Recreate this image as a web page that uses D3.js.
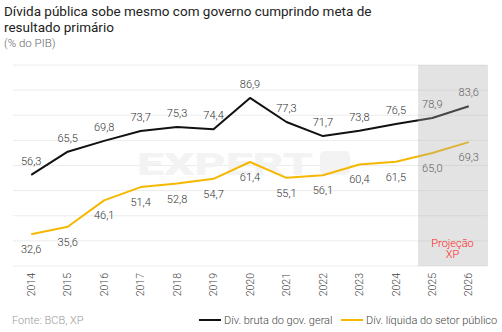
<!DOCTYPE html>
<html>
<head>
<meta charset="utf-8">
<script src="https://cdn.jsdelivr.net/npm/d3@7"></script>
<style>
  body { margin: 0; background: #fff; }
  svg { display: block; font-family: Roboto, "Noto Sans", sans-serif; }
  .light { font-weight: 300; }
</style>
</head>
<body>
<div id="chart"></div>
<script>
const years = ["2014", "2015", "2016", "2017", "2018", "2019", "2020", "2021", "2022", "2023", "2024", "2025", "2026"];
const dividaBruta = [56.3, 65.5, 69.8, 73.7, 75.3, 74.4, 86.9, 77.3, 71.7, 73.8, 76.5, 78.9, 83.6];
const dividaLiquida = [32.6, 35.6, 46.1, 51.4, 52.8, 54.7, 61.4, 55.1, 56.1, 60.4, 61.5, 65.0, 69.3];
const yTicks = [20, 30, 40, 50, 60, 70, 80, 90, 100];
const projectionStart = "2025";

const width = 502, height = 332;
const margin = { top: 65, right: 15, bottom: 66, left: 13 };
const innerWidth = width - margin.left - margin.right;
const innerHeight = height - margin.top - margin.bottom;

const svg = d3.select("#chart").append("svg")
  .attr("width", width).attr("height", height);

// titles
svg.append("text").attr("x", 4).attr("y", 16)
  .attr("font-size", 13.5).attr("fill", "#222")
  .text("Dívida pública sobe mesmo com governo cumprindo meta de");
svg.append("text").attr("x", 4).attr("y", 32)
  .attr("font-size", 13.5).attr("fill", "#222")
  .text("resultado primário");
svg.append("text").attr("class", "light").attr("x", 4).attr("y", 47)
  .attr("font-size", 11.5).attr("fill", "#666")
  .text("(% do PIB)");

const g = svg.append("g").attr("transform", `translate(${margin.left},${margin.top})`);

const x = d3.scaleBand().domain(years).range([0, innerWidth]);
const y = d3.scaleLinear().domain([20, 100]).range([innerHeight, 0]);
const cx = d => x(d) + x.bandwidth() / 2;

// gridlines
g.append("g").selectAll("line").data(yTicks).enter().append("line")
  .attr("x1", 0).attr("x2", innerWidth)
  .attr("y1", d => y(d)).attr("y2", d => y(d))
  .attr("stroke", "#ececec").attr("stroke-width", 1);

// watermark
const wm = g.append("g").attr("fill", "#f3f3f3");
wm.append("text").attr("x", 124).attr("y", 110)
  .attr("font-size", 31).attr("font-weight", 900)
  .attr("textLength", 176).attr("lengthAdjust", "spacingAndGlyphs")
  .text("EXPERT");
wm.append("rect").attr("x", 307).attr("y", 86).attr("width", 30).attr("height", 24).attr("rx", 5);

// lines
const series = [
  { name: "Dív. bruta do gov. geral", values: dividaBruta, color: "#111", above: true },
  { name: "Dív. líquida do setor público", values: dividaLiquida, color: "#f5b800", above: false }
];

const line = d3.line().x((d, i) => cx(years[i])).y(d => y(d));

series.forEach(s => {
  g.append("path").datum(s.values)
    .attr("fill", "none").attr("stroke", s.color).attr("stroke-width", 2)
    .attr("stroke-linejoin", "round")
    .attr("d", line);

  g.append("g").selectAll("text").data(s.values).enter().append("text")
    .attr("class", "light")
    .attr("x", (d, i) => cx(years[i]))
    .attr("y", d => y(d) + (s.above ? -10 : 19))
    .attr("text-anchor", "middle")
    .attr("font-size", 11).attr("fill", "#333")
    .text(d => d.toFixed(1).replace(".", ","));
});

// projection shading on top
const projX = x(projectionStart) + 4;
g.append("rect")
  .attr("x", projX).attr("y", 0)
  .attr("width", innerWidth + 1 - projX).attr("height", innerHeight)
  .attr("fill", "#aeaeae").attr("opacity", 0.34);

const projCx = (projX + innerWidth) / 2;
g.append("text").attr("class", "light").attr("x", projCx).attr("y", y(20) - 19)
  .attr("text-anchor", "middle").attr("font-size", 11).attr("fill", "#ff2020")
  .text("Projeção");
g.append("text").attr("class", "light").attr("x", projCx).attr("y", y(20) - 8)
  .attr("text-anchor", "middle").attr("font-size", 11).attr("fill", "#ff2020")
  .text("XP");

// x axis labels
const xAxis = g.append("g").attr("transform", `translate(0,${innerHeight})`)
  .call(d3.axisBottom(x).tickSize(0).tickPadding(0));
xAxis.select(".domain").remove();
xAxis.selectAll("text")
  .attr("class", "light")
  .attr("transform", "rotate(-90)")
  .attr("x", -7).attr("y", 0).attr("dy", "0.35em")
  .attr("text-anchor", "end")
  .attr("font-size", 10.5).attr("font-family", "Roboto, sans-serif").attr("fill", "#444");

// footer
svg.append("text").attr("class", "light").attr("x", 12).attr("y", 324)
  .attr("font-size", 11).attr("fill", "#999")
  .text("Fonte: BCB, XP");

const legendPos = [199, 341];
series.forEach((s, i) => {
  const lg = svg.append("g").attr("transform", `translate(${legendPos[i]},320)`);
  lg.append("line").attr("x1", 0).attr("x2", 22).attr("y1", 0).attr("y2", 0)
    .attr("stroke", s.color).attr("stroke-width", 2);
  lg.append("text").attr("class", "light").attr("x", 25).attr("y", 4)
    .attr("font-size", 11).attr("fill", "#444")
    .text(s.name);
});
</script>
</body>
</html>
